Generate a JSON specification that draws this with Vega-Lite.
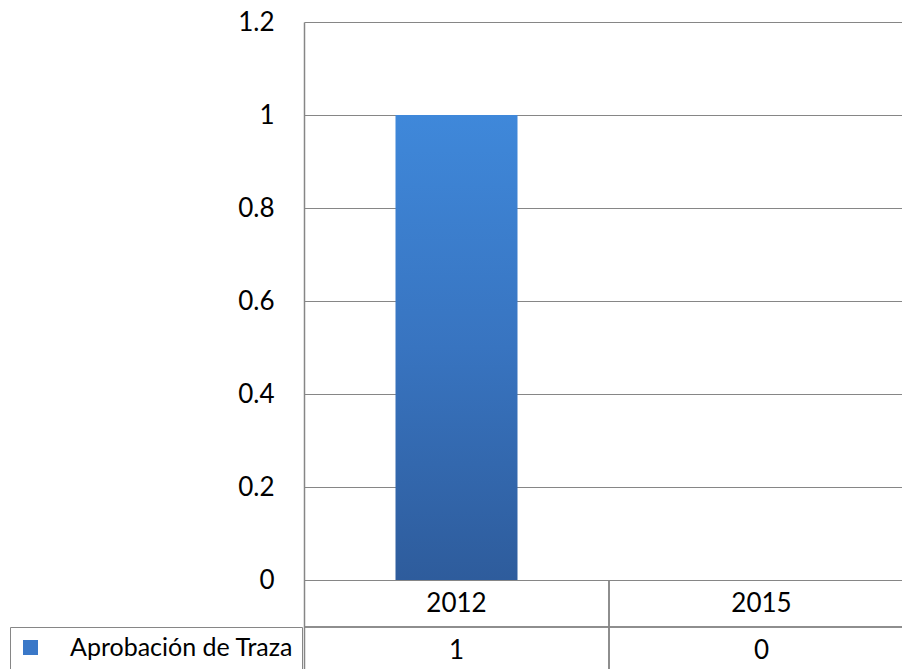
{
  "$schema": "https://vega.github.io/schema/vega-lite/v6.json",
  "autosize": {"type": "pad"},
  "padding": {"left": 9, "top": 9, "right": 0, "bottom": 0},
  "background": "white",
  "spacing": 0,
  "bounds": "flush",
  "datasets": {
    "d": [
      {"year": "2012", "value": 1, "series": "Aprobación de Traza"},
      {"year": "2015", "value": 0, "series": "Aprobación de Traza"}
    ]
  },
  "config": {
    "view": {"stroke": null},
    "font": "Lato",
    "concat": {"spacing": 0}
  },
  "vconcat": [
    {
      "width": 599,
      "height": 558,
      "data": {"name": "d"},
      "encoding": {
        "x": {
          "field": "year",
          "type": "nominal",
          "scale": {"type": "band", "paddingInner": 0, "paddingOuter": 0, "range": [0, 610]},
          "axis": null
        },
        "y": {
          "field": "value",
          "type": "quantitative",
          "scale": {"domain": [0, 1.2]},
          "axis": {
            "values": [0, 0.2, 0.4, 0.6, 0.8, 1, 1.2],
            "format": "~g",
            "title": null,
            "ticks": false,
            "labelPadding": 30,
            "labelFontSize": 26,
            "labelFont": "Lato",
            "labelColor": "#000000",
            "gridColor": "#868686",
            "gridWidth": 1,
            "domainColor": "#868686",
            "domainWidth": 1.5
          }
        }
      },
      "layer": [
        {
          "mark": {
            "type": "bar",
            "width": {"band": 0.4},
            "fill": {
              "gradient": "linear",
              "x1": 0, "y1": 0, "x2": 0, "y2": 1,
              "stops": [
                {"offset": 0, "color": "#3f88da"},
                {"offset": 0.5, "color": "#3874c0"},
                {"offset": 1, "color": "#2e5c9c"}
              ]
            },
            "strokeWidth": 0
          }
        },
        {
          "mark": {"type": "bar", "width": {"band": 0.4}, "opacity": 0},
          "encoding": {
            "color": {
              "field": "series",
              "type": "nominal",
              "scale": {"range": ["#3a78c8"]},
              "legend": {
                "orient": "none",
                "legendX": -294,
                "legendY": 605,
                "title": null,
                "symbolType": "square",
                "symbolSize": 225,
                "symbolOpacity": 1,
                "symbolStrokeWidth": 0,
                "labelFontSize": 25,
                "labelFont": "Lato",
                "labelColor": "#000000",
                "labelOffset": 27,
                "labelLimit": 400,
                "padding": 8,
                "strokeColor": "#868686",
                "cornerRadius": 0
              }
            }
          }
        }
      ]
    },
    {
      "width": 599,
      "height": 89,
      "data": {"name": "d"},
      "encoding": {
        "x": {
          "field": "year",
          "type": "nominal",
          "scale": {"type": "band", "paddingInner": 0, "paddingOuter": 0, "range": [0, 610]},
          "axis": null
        }
      },
      "layer": [
        {
          "mark": {"type": "rect", "fill": null, "stroke": "#868686", "strokeWidth": 1.5, "clip": true},
          "encoding": {
            "y": {
              "datum": "h",
              "type": "nominal",
              "scale": {"type": "band", "domain": ["h", "v"], "paddingInner": 0, "paddingOuter": 0, "range": [0, 94]},
              "axis": {"labels": false, "ticks": false, "title": null, "grid": false, "domainColor": "#868686", "domainWidth": 1.5, "minExtent": 0}
            }
          }
        },
        {
          "mark": {"type": "rect", "fill": null, "stroke": "#868686", "strokeWidth": 1.5, "clip": true},
          "encoding": {
            "y": {"datum": "v", "type": "nominal"}
          }
        },
        {
          "mark": {"type": "text", "fontSize": 26, "font": "Lato", "color": "#000000"},
          "encoding": {
            "y": {"datum": "h", "type": "nominal"},
            "text": {"field": "year"}
          }
        },
        {
          "mark": {"type": "text", "fontSize": 26, "font": "Lato", "color": "#000000"},
          "encoding": {
            "y": {"datum": "v", "type": "nominal"},
            "text": {"field": "value", "type": "quantitative"}
          }
        }
      ]
    }
  ]
}
